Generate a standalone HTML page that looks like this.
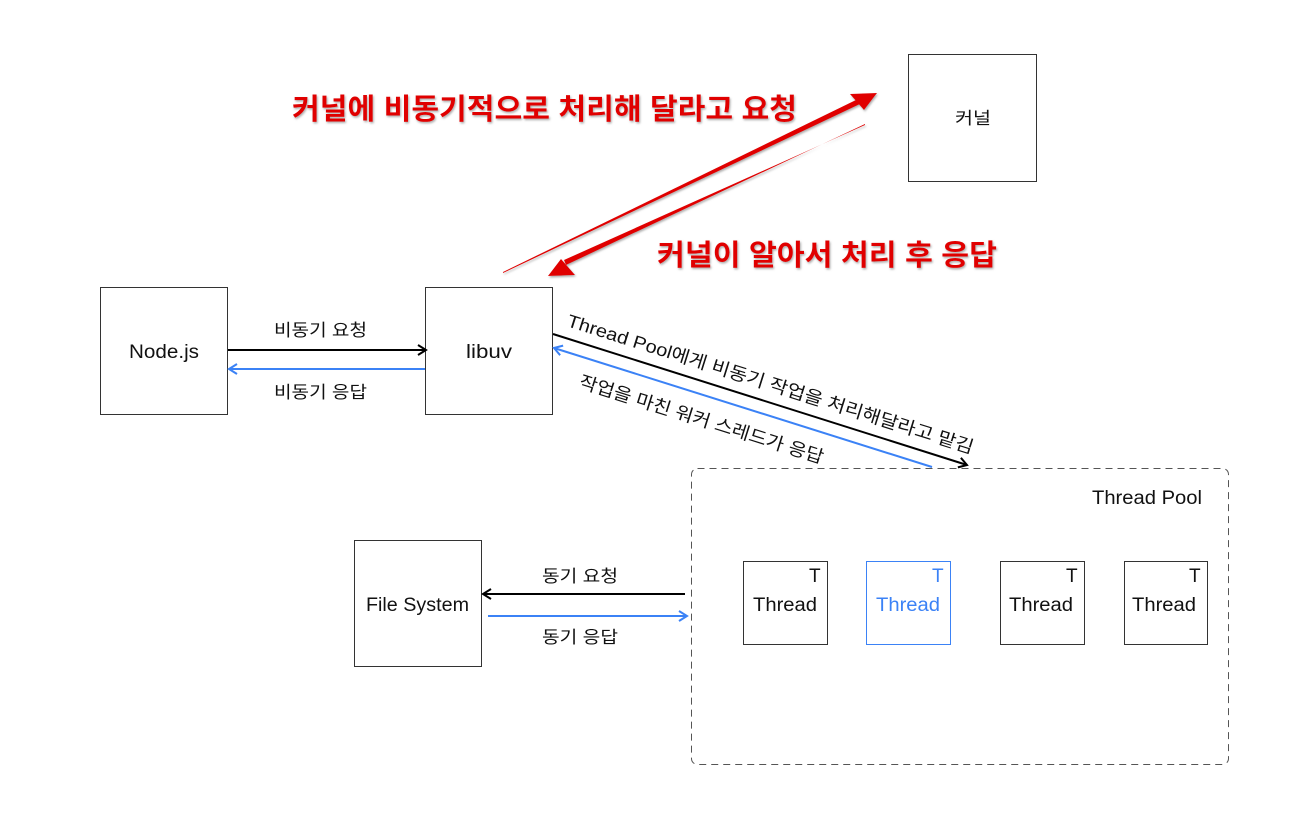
<!DOCTYPE html>
<html><head><meta charset="utf-8"><style>
body{margin:0;background:#fff;}
svg text{font-family:"Liberation Sans","Noto Sans CJK KR",sans-serif;}
</style></head><body>
<svg width="1302" height="812" xmlns="http://www.w3.org/2000/svg">
<defs>
<marker id="ab" markerWidth="12" markerHeight="12" refX="10" refY="6" orient="auto" markerUnits="userSpaceOnUse"><path d="M2,1 L10,6 L2,11" fill="none" stroke="#000" stroke-width="2"/></marker>
<marker id="ablu" markerWidth="12" markerHeight="12" refX="10" refY="6" orient="auto" markerUnits="userSpaceOnUse"><path d="M2,1 L10,6 L2,11" fill="none" stroke="#3b82f6" stroke-width="2"/></marker>
<filter id="sh"><feDropShadow dx="1" dy="1.5" stdDeviation="1" flood-color="#888" flood-opacity="0.7"/></filter>
</defs>
<g fill="#fff" stroke="#333" stroke-width="1">
<rect x="908.5" y="54.5" width="128" height="127"/>
<rect x="100.5" y="287.5" width="127" height="127"/>
<rect x="425.5" y="287.5" width="127" height="127"/>
<rect x="354.5" y="540.5" width="127" height="126"/>
<rect x="691.5" y="468.5" width="537" height="296" rx="6" stroke-dasharray="7,5" stroke="#555"/>
<rect x="743.5" y="561.5" width="84" height="83"/>
<rect x="866.5" y="561.5" width="84" height="83" stroke="#3b82f6"/>
<rect x="1000.5" y="561.5" width="84" height="83"/>
<rect x="1124.5" y="561.5" width="83" height="83"/>
</g>
<g font-size="19" fill="#111" lengthAdjust="spacingAndGlyphs">
<text x="955" y="124" textLength="36" lengthAdjust="spacingAndGlyphs" font-size="17">커널</text>
<text x="129" y="358" textLength="70" lengthAdjust="spacingAndGlyphs">Node.js</text>
<text x="466" y="358" textLength="46" lengthAdjust="spacingAndGlyphs">libuv</text>
<text x="366" y="611" textLength="103" lengthAdjust="spacingAndGlyphs">File System</text>
<text x="753" y="611" textLength="64" lengthAdjust="spacingAndGlyphs">Thread</text>
<text x="876" y="611" textLength="64" lengthAdjust="spacingAndGlyphs" fill="#3b82f6">Thread</text>
<text x="1009" y="611" textLength="64" lengthAdjust="spacingAndGlyphs">Thread</text>
<text x="1132" y="611" textLength="64" lengthAdjust="spacingAndGlyphs">Thread</text>
<text x="809" y="582">T</text>
<text x="932" y="582" fill="#3b82f6">T</text>
<text x="1066" y="582">T</text>
<text x="1189" y="582">T</text>
<text x="1092" y="504" textLength="110" lengthAdjust="spacingAndGlyphs">Thread Pool</text>
<text x="274" y="336" font-size="17" textLength="93" lengthAdjust="spacingAndGlyphs">비동기 요청</text>
<text x="274" y="398" font-size="17" textLength="93" lengthAdjust="spacingAndGlyphs">비동기 응답</text>
<text x="542" y="582" font-size="17" textLength="76" lengthAdjust="spacingAndGlyphs">동기 요청</text>
<text x="542" y="643" font-size="17" textLength="76" lengthAdjust="spacingAndGlyphs">동기 응답</text>
</g>
<line x1="228" y1="350" x2="426" y2="350" stroke="#000" stroke-width="2" marker-end="url(#ab)"/>
<line x1="425" y1="369" x2="229" y2="369" stroke="#3b82f6" stroke-width="2" marker-end="url(#ablu)"/>
<line x1="685" y1="594" x2="483" y2="594" stroke="#000" stroke-width="2" marker-end="url(#ab)"/>
<line x1="488" y1="616" x2="687" y2="616" stroke="#3b82f6" stroke-width="2" marker-end="url(#ablu)"/>
<line x1="553" y1="334" x2="967" y2="465" stroke="#000" stroke-width="2" marker-end="url(#ab)"/>
<line x1="932" y1="467" x2="554" y2="348" stroke="#3b82f6" stroke-width="2" marker-end="url(#ablu)"/>
<g font-size="18" fill="#111">
<text transform="translate(566,326) rotate(17.5)" textLength="425" lengthAdjust="spacingAndGlyphs">Thread Pool에게 비동기 작업을 처리해달라고 맡김</text>
<text transform="translate(578,387) rotate(17.5)" textLength="255" lengthAdjust="spacingAndGlyphs">작업을 마친 워커 스레드가 응답</text>
</g>
<g fill="#e00000" filter="url(#sh)">
<polygon points="503,272 858,99 860,104 503,273"/>
<polygon points="877,93 850,94 864,110"/>
<polygon points="865,124 566,265 564,260 865,125"/>
<polygon points="548,276 575,275 561,259"/>
<g font-size="29" font-weight="bold">
<text x="292" y="119" textLength="505" lengthAdjust="spacingAndGlyphs">커널에 비동기적으로 처리해 달라고 요청</text>
<text x="657" y="265" textLength="340" lengthAdjust="spacingAndGlyphs">커널이 알아서 처리 후 응답</text>
</g>
</g>
</svg>
</body></html>
